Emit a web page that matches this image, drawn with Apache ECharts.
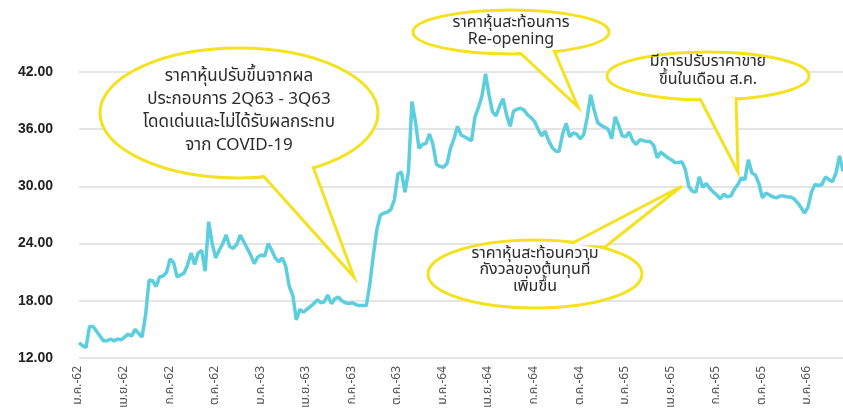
<!DOCTYPE html>
<html><head><meta charset="utf-8">
<script src="https://cdn.jsdelivr.net/npm/echarts@6/dist/echarts.min.js"></script>
<style>html,body{margin:0;padding:0;background:#fff}#c{width:843px;height:420px}</style>
</head><body><div id="c"></div>
<script>
// Quarterly tick labels (Thai Buddhist-era months)
const tickLabels = ['ม.ค.-62','เม.ย.-62','ก.ค.-62','ต.ค.-62','ม.ค.-63','เม.ย.-63','ก.ค.-63','ต.ค.-63',
  'ม.ค.-64','เม.ย.-64','ก.ค.-64','ต.ค.-64','ม.ค.-65','เม.ย.-65','ก.ค.-65','ต.ค.-65','ม.ค.-66'];
const weeksPerTick = 13;
// Weekly share price (Baht)
const price = [
  13.6,13.3,13.1,15.3,15.3,14.8,14.3,13.8,13.8,14.0,13.8,14.0,13.9,14.2,14.5,14.3,15.0,14.6,14.2,16.5,
  20.2,20.1,19.5,20.5,20.6,21.0,22.4,22.0,20.5,20.7,20.9,21.8,23.0,21.8,23.0,23.3,21.1,26.3,24.0,22.5,
  23.3,24.0,24.9,23.7,23.5,23.9,24.9,24.2,23.5,22.8,21.9,22.6,22.8,22.7,24.0,23.3,22.5,22.1,22.5,21.6,
  19.5,18.6,16.0,17.1,16.8,17.1,17.4,17.7,18.1,17.8,17.9,18.6,17.7,18.2,18.4,18.0,17.8,17.7,17.8,17.6,
  17.5,17.5,17.5,19.8,22.8,25.5,27.0,27.2,27.3,27.6,28.6,31.3,31.5,29.4,31.5,38.9,36.8,34.0,34.4,34.5,
  35.5,34.4,32.3,32.1,32.0,32.4,34.0,35.0,36.3,35.4,35.2,35.0,34.8,37.3,38.3,39.5,41.8,39.6,37.8,37.4,
  38.4,39.2,37.5,36.3,37.9,38.1,38.2,38.0,37.5,37.2,36.8,36.0,35.3,35.8,34.8,34.1,33.7,33.7,35.5,36.6,
  35.2,35.6,35.5,35.0,35.4,37.2,39.6,38.0,36.7,36.4,36.2,36.0,35.0,37.3,36.4,35.3,35.2,35.7,34.8,34.4,
  34.9,34.8,34.7,34.7,34.3,33.0,33.6,33.3,33.0,32.8,32.5,32.5,32.6,31.8,30.0,29.5,29.4,31.0,29.9,30.3,
  29.8,29.4,29.1,28.7,29.2,28.9,29.0,29.7,30.2,30.9,30.7,32.8,31.4,31.2,30.3,28.8,29.3,29.1,28.9,28.8,
  29.0,29.0,28.9,28.9,28.7,28.3,27.8,27.2,27.8,29.4,30.2,30.1,30.2,31.0,30.7,30.5,31.4,33.2,31.6
];
const categories = price.map((_, i) => String(i));
const yMin = 12, yMax = 42, yStep = 6;

const YELLOW = '#F4E21E';
const thaiFont = '"Noto Sans Thai","Noto Sans Thai Looped","Loma","Garuda","Noto Sans",sans-serif';

function bubble(cx, cy, rx, ry, b1, b2, tip, lines, ty, lh, fs, z) {
  return [
    { type: 'ellipse', z: z, shape: { cx, cy, rx, ry }, style: { fill: '#fff', stroke: YELLOW, lineWidth: 3 } },
    { type: 'polygon', z: z + 1, shape: { points: [b1, tip, b2] }, style: { fill: '#fff', stroke: YELLOW, lineWidth: 3, lineJoin: 'miter' } },
    { type: 'ellipse', z: z + 2, shape: { cx, cy, rx: rx - 2, ry: ry - 2 }, style: { fill: '#fff', stroke: null } },
    { type: 'text', z: z + 3, x: cx, y: ty, style: { text: lines.join('\n'), textAlign: 'center', textVerticalAlign: 'middle',
        font: fs + 'px ' + thaiFont, fill: '#2b2b2b', lineHeight: lh } }
  ];
}

const graphics = [].concat(
  bubble(239, 113, 139, 65, [258, 170], [312, 164], [354, 277],
    ['ราคาหุ้นปรับขึ้นจากผล', 'ประกอบการ 2Q63 - 3Q63', 'โดดเด่นและไม่ได้รับผลกระทบ', 'จาก COVID-19'], 112, 23, 17, 100),
  bubble(511, 32, 98, 22, [517, 50], [553, 48], [578, 107],
    ['ราคาหุ้นสะท้อนการ', 'Re-opening'], 32, 17, 16, 110),
  bubble(708, 76, 101, 24, [698, 95], [736, 96], [738, 172],
    ['มีการปรับราคาขาย', 'ขึ้นในเดือน ส.ค.'], 72, 18, 16, 120),
  bubble(535, 274, 107, 34, [567, 246], [605, 247], [682, 186],
    ['ราคาหุ้นสะท้อนความ', 'กังวลของต้นทุนที่', 'เพิ่มขึ้น'], 271, 16.5, 16, 130)
);

const chart = echarts.init(document.getElementById('c'), null, { renderer: 'canvas' });
chart.setOption({
  animation: false,
  backgroundColor: '#fff',
  grid: { left: 79, right: 0, top: 72, bottom: 62, containLabel: false },
  xAxis: {
    type: 'category', data: categories, boundaryGap: false,
    axisLine: { show: false }, axisTick: { show: false },
    axisLabel: {
      interval: weeksPerTick - 1, rotate: 90, margin: 8,
      color: '#555', fontSize: 12, fontFamily: thaiFont,
      formatter: (v, idx) => tickLabels[Math.round(idx / weeksPerTick)] || ''
    }
  },
  yAxis: {
    type: 'value', min: yMin, max: yMax, interval: yStep,
    axisLine: { show: false }, axisTick: { show: false },
    splitLine: { lineStyle: { color: '#dcdcdc', width: 1.5 } },
    axisLabel: { margin: 26, color: '#222', fontSize: 14, fontWeight: 'bold', fontFamily: '"Liberation Sans",Arial,sans-serif',
      formatter: v => v.toFixed(2) }
  },
  series: [{
    type: 'line', data: price, showSymbol: false, symbol: 'none',
    lineStyle: { color: '#5DCEDD', width: 3.5 }, z: 5
  }],
  graphic: graphics
});
</script>
</body></html>
